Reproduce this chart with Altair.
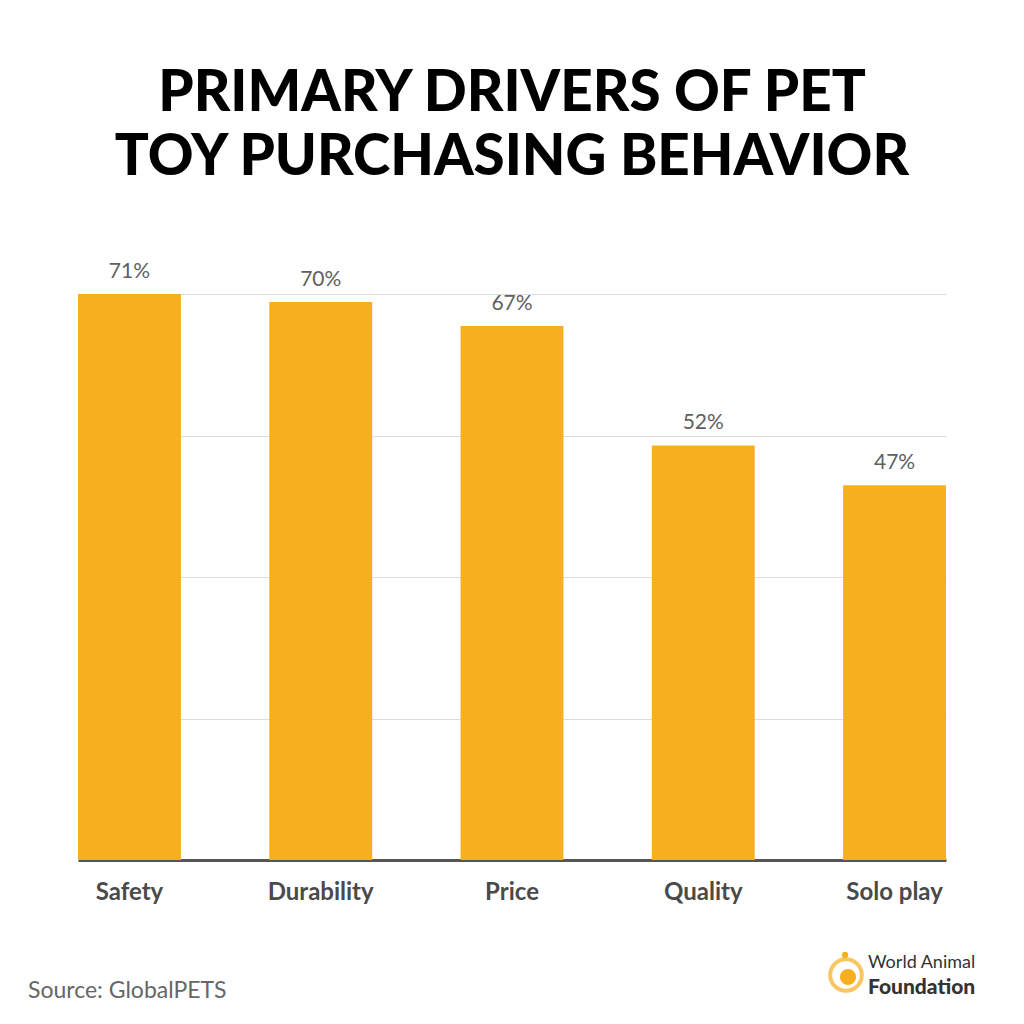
import altair as alt
import pandas as pd

categories = ["Safety", "Durability", "Price", "Quality", "Solo play"]
values = [71, 70, 67, 52, 47]
labels = ["71%", "70%", "67%", "52%", "47%"]
grid_values = [17.75, 35.5, 53.25, 71]
title_lines = ["PRIMARY DRIVERS OF PET", "TOY PURCHASING BEHAVIOR"]
source_text = "Source: GlobalPETS"

df = pd.DataFrame({"category": categories, "value": values, "label": labels})

FONT = "Lato"
BAR = "#F8AF1F"

x = alt.X("category:N", sort=categories, title=None,
          scale=alt.Scale(paddingInner=0.462, paddingOuter=0),
          axis=alt.Axis(labelAngle=0, labelFont=FONT, labelFontSize=24,
                        labelFontWeight="bold", labelColor="#4a4a4a",
                        labelBaseline="alphabetic", labelPadding=39,
                        ticks=False, tickSize=0, domainColor="#555555",
                        domainWidth=3, grid=False))
y = alt.Y("value:Q", title=None,
          scale=alt.Scale(domain=[0, 71], nice=False),
          axis=alt.Axis(values=grid_values, labels=False, ticks=False,
                        domain=False, grid=True, gridColor="#dddddd",
                        gridWidth=1))

bars = alt.Chart(df).mark_bar(color=BAR).encode(x=x, y=y)

bar_labels = alt.Chart(df).mark_text(
    font=FONT, fontSize=21, color="#5f5f5f", baseline="alphabetic", dy=-16
).encode(x=alt.X("category:N", sort=categories), y="value:Q", text="label:N")

one = alt.Data(values=[{"k": 1}])

title1 = alt.Chart(one).mark_text(
    text=title_lines[0], font=FONT, fontSize=56.5, fontWeight=900,
    color="#000000", align="center", baseline="alphabetic"
).encode(x=alt.value(434), y=alt.value(-183))
title2 = alt.Chart(one).mark_text(
    text=title_lines[1], font=FONT, fontSize=56.5, fontWeight=900,
    color="#000000", align="center", baseline="alphabetic"
).encode(x=alt.value(434), y=alt.value(-119))

source = alt.Chart(one).mark_text(
    text=source_text, font=FONT, fontSize=23, color="#666666",
    align="left", baseline="alphabetic"
).encode(x=alt.value(-50), y=alt.value(704))

ring = alt.Chart(one).mark_point(
    shape="circle", filled=False, stroke=BAR, strokeWidth=4, size=1000
).encode(x=alt.value(768), y=alt.value(681))
dog = alt.Chart(one).mark_point(
    shape="circle", filled=True, color=BAR, opacity=1, size=260
).encode(x=alt.value(770), y=alt.value(683))
bird = alt.Chart(one).mark_point(
    shape="circle", filled=True, color=BAR, opacity=1, size=40
).encode(x=alt.value(767), y=alt.value(661))

logo1 = alt.Chart(one).mark_text(
    text="World Animal", font=FONT, fontSize=18, color="#333333",
    align="left", baseline="alphabetic"
).encode(x=alt.value(790), y=alt.value(674))
logo2 = alt.Chart(one).mark_text(
    text="Foundation", font=FONT, fontSize=21, fontWeight=900,
    color="#333333", align="left", baseline="alphabetic"
).encode(x=alt.value(790), y=alt.value(700))

chart = alt.layer(
    bars, bar_labels, title1, title2, source, ring, dog, bird, logo1, logo2
).properties(
    width=868, height=566,
    autosize=alt.AutoSizeParams(type="none"),
    padding={"left": 70, "top": 286, "right": 70, "bottom": 150},
    background="#ffffff",
).configure_view(stroke=None)

chart.save("out.html", embed_options={"renderer": "svg", "actions": False})
